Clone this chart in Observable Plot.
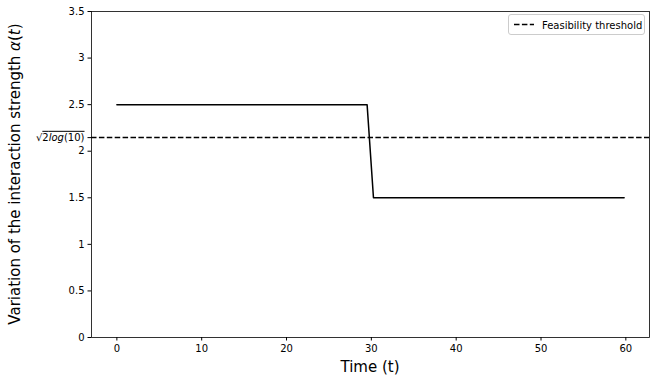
<!DOCTYPE html>
<html><head><meta charset="utf-8">
<script src="https://cdn.jsdelivr.net/npm/d3@7"></script>
<script src="https://cdn.jsdelivr.net/npm/@observablehq/plot@0.6"></script>
<style>
body{margin:0;background:#fff;}
svg{font-family:"DejaVu Sans",sans-serif;}
</style>
</head><body>
<div id="chart"></div>
<script>
const times = [0, 29.5, 30.25, 59.8];
const alphaValues = [2.5, 2.5, 1.5, 1.5];
const threshold = Math.sqrt(2 * Math.log(10));
const yTicks = [0, 0.5, 1, 1.5, 2, 2.5, 3, 3.5];
const xTicks = [0, 10, 20, 30, 40, 50, 60];
const thresholdLabel = "√2log(10)";
const legendLabel = "Feasibility threshold";
const xLabel = "Time (t)";
const yLabel = "Variation of the interaction strength ";

const data = times.map((t, i) => ({t, a: alphaValues[i]}));

const W = 656, H = 380;
const mL = 91, mR = 7, mT = 11, mB = 43;
const plot = Plot.plot({
  width: W, height: H,
  marginLeft: mL, marginRight: mR, marginTop: mT, marginBottom: mB,
  style: {fontFamily: "DejaVu Sans, sans-serif", fontSize: "10px", background: "#fff", color: "#000"},
  x: {domain: [-2.99, 62.79], ticks: xTicks, tickFormat: d => String(d), label: null, tickSize: 3.5, tickPadding: 3.5},
  y: {domain: [0, 3.5], ticks: [...yTicks, threshold], tickFormat: d => d === threshold ? thresholdLabel : String(d), label: null, tickSize: 3.5, tickPadding: 3.5},
  marks: [
    Plot.ruleY([threshold], {stroke: "#000", strokeWidth: 1.5, strokeDasharray: "5.5,2.4"}),
    Plot.line(data, {x: "t", y: "a", stroke: "#000", strokeWidth: 1.5}),
    Plot.frame({stroke: "#000", strokeWidth: 0.8})
  ]
});
document.getElementById("chart").appendChild(plot);

const svg = d3.select(plot);
svg.selectAll("text").each(function(){
  const el = d3.select(this);
  if (el.text() === thresholdLabel) {
    el.text(null);
    el.append("tspan").text("√");
    const o = el.append("tspan").style("text-decoration", "overline");
    o.append("tspan").text("2");
    o.append("tspan").style("font-style", "italic").text("log");
    o.append("tspan").text("(10)");
  }
});

const pLeft = mL, pRight = W - mR, pTop = mT, pBottom = H - mB;
svg.append("text").attr("x", (pLeft + pRight) / 2).attr("y", 372)
  .attr("text-anchor", "middle").attr("font-size", 15).attr("fill", "#000").text(xLabel);
const yl = svg.append("text").attr("transform", `translate(20,${(pTop + pBottom) / 2}) rotate(-90)`)
  .attr("text-anchor", "middle").attr("font-size", 15).attr("fill", "#000");
yl.append("tspan").text(yLabel);
yl.append("tspan").attr("font-style", "italic").text("α");
yl.append("tspan").text("(");
yl.append("tspan").attr("font-style", "italic").text("t");
yl.append("tspan").text(")");

const lg = svg.append("g");
lg.append("rect").attr("x", 508.5).attr("y", 14.5).attr("width", 136).attr("height", 20)
  .attr("rx", 2.5).attr("fill", "#fff").attr("fill-opacity", 0.8).attr("stroke", "#ccc");
lg.append("line").attr("x1", 514).attr("x2", 534).attr("y1", 24.5).attr("y2", 24.5)
  .attr("stroke", "#000").attr("stroke-width", 1.5).attr("stroke-dasharray", "5.5,2.4");
lg.append("text").attr("x", 542).attr("y", 28.5).attr("text-anchor", "start")
  .attr("font-size", 10).attr("fill", "#000").text(legendLabel);
</script>
</body></html>
